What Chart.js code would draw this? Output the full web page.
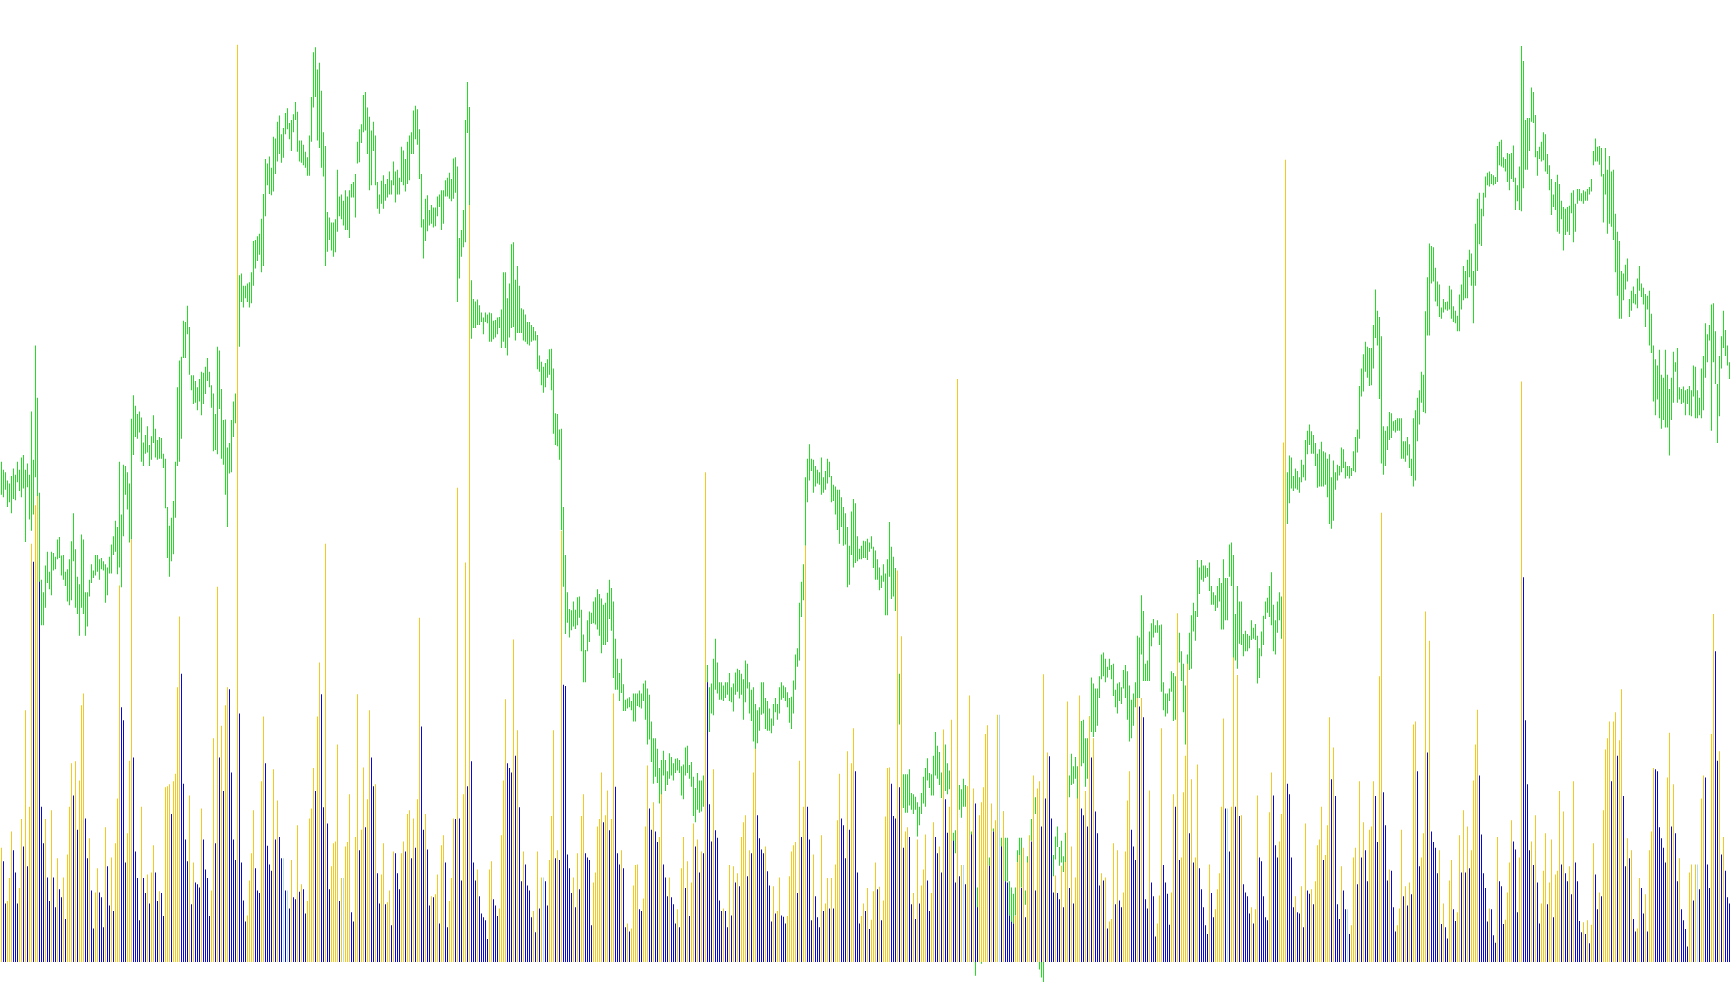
<!DOCTYPE html>
<html>
<head>
<meta charset="utf-8">
<script src="https://cdn.jsdelivr.net/npm/chart.js@4.4.1/dist/chart.umd.min.js"></script>
<style>
html, body { margin: 0; padding: 0; background: #ffffff; overflow: hidden; }
</style>
</head>
<body>
<canvas id="volumeChart" width="1730" height="1005"></canvas>
<script>
// tick volume per bar
const volume = [
    184,162,94,98,135,210,180,144,94,119, 230,186,405,154,250,673,644,735,750,612,
    250,191,230,136,98,244,136,88,167,117, 104,136,69,173,250,320,268,323,213,292,
    413,432,231,167,199,115,54,112,151,112, 104,56,217,154,91,168,82,191,263,606,
    410,389,160,207,324,680,329,178,135,67, 250,135,111,141,94,144,188,144,98,114,
    111,74,281,283,286,238,291,303,442,556, 464,287,197,162,268,93,160,128,125,120,
    247,197,149,135,74,115,360,191,604,329, 380,275,413,442,439,305,197,164,1476,400,
    160,99,65,75,131,175,244,151,115,111, 291,395,320,187,157,147,310,197,260,201,
    167,167,115,115,86,

    164,104,101,220,113,125,117,78,98,231, 247,312,275,395,482,431,249,673,223,117,
    154,191,194,350,98,135,135,186,193,270, 80,65,201,431,180,213,313,217,262,405,
    329,283,286,143,94,141,191,93,96,115, 59,178,175,143,117,175,194,178,238,244,
    167,231,184,262,554,379,213,238,181,91, 106,104,109,141,62,188,204,160,56,98,
    135,231,230,763,231,131,270,643,283,1218, 323,160,131,149,106,78,72,67,37,149,
    162,101,91,74,86,204,292,423,320,312, 305,519,332,373,249,130,178,157,123,115,
    72,82,48,178,86,136,136,130,91,164, 235,373,167,180,164,694,446,444,173,151,
    111,136,88,175,117,

    235,270,175,168,164,59,128,144,218,230, 305,225,236,276,212,230,432,282,175,157,
    180,151,56,62,49,54,123,156,157,85, 82,102,218,316,247,213,257,210,193,201,
    270,157,136,106,136,104,93,62,85,56, 151,201,119,162,74,128,223,186,197,144,
    178,175,788,450,254,194,310,212,200,99, 82,86,82,56,156,75,154,128,143,122,
    201,225,236,138,180,175,305,343,236,199, 181,175,186,146,123,65,122,78,82,136,
    75,73,62,74,138,178,188,193,111,324, 201,250,670,250,197,67,173,106,72,56,
    204,82,94,135,86,135,86,157,228,303, 231,220,167,339,213,320,376,307,144,62,
    74,94,82,119,53,

    68,114,160,117,121,67,99,234,312,313, 287,235,231,630,281,524,184,210,217,201,
    93,111,69,197,94,123,149,205,131,82, 111,225,201,175,186,144,374,262,208,250,
    390,195,128,938,138,156,156,125,283,429, 205,279,255,88,236,257,281,367,381,155,
    255,210,228,398,398,186,242,130,128,75, 65,62,74,160,172,119,184,72,160,204,
    194,300,115,279,291,218,463,263,337,331, 231,112,139,111,101,155,88,161,419,119,
    186,94,136,263,429,247,236,275,218,395, 329,360,242,207,123,143,131,136,54,65,
    69,191,93,180,99,88,112,178,260,307, 213,186,164,425,411,425,394,101,86,276,
    128,106,41,62,107,

    376,156,128,110,60,112,270,250,561,164, 168,273,332,480,207,294,160,168,318,151,
    117,88,59,45,157,111,72,85,117,143, 250,392,247,247,178,250,490,250,462,235,
    236,125,112,106,78,88,62,85,268,168, 162,106,72,67,241,305,268,188,168,194,
    238,836,1291,287,270,168,88,106,80,78, 122,56,223,115,110,117,93,130,188,197,
    250,164,172,220,394,294,345,267,93,69, 154,115,85,85,45,59,168,184,125,291,
    168,225,180,130,213,218,291,267,193,460, 723,273,220,131,149,147,88,49,59,86,
    213,106,122,91,128,109,382,387,307,154, 168,207,564,337,517,210,193,184,143,180,
    61,94,56,38,131,

    164,85,66,80,204,144,244,144,218,151, 180,292,350,406,300,205,143,119,65,86,
    85,43,31,201,130,122,61,68,112,160, 228,194,181,80,168,934,619,389,286,180,
    194,156,236,128,62,94,147,207,93,128, 197,72,141,147,275,157,242,143,130,154,
    109,291,160,130,66,48,64,45,67,30, 60,191,141,85,112,106,244,342,360,387,
    291,387,402,332,357,439,267,154,199,167, 180,69,49,54,135,119,78,109,49,180,
    210,312,310,307,217,199,184,160,297,369, 218,286,207,130,167,85,67,53,25,144,
    157,99,157,157,117,263,300,297,157,119, 367,560,500,324,339,173,201,147,104,94
];

// price range per bar as [low, high]
const priceRange = [
    [1752,1805],[1748,1792],[1760,1788],[1732,1775],[1740,1770],[1722,1782],[1745,1794],[1743,1784],[1772,1805],[1758,1792],
    [1748,1812],[1762,1816],[1676,1792],[1764,1802],[1712,1784],[1694,1886],[1720,1808],[1780,1992],[1742,1908],[1608,1755],
    [1542,1615],[1542,1595],[1570,1638],[1610,1660],[1600,1628],[1590,1660],[1630,1658],[1632,1652],[1648,1680],[1650,1684],
    [1622,1654],[1615,1655],[1605,1628],[1580,1632],[1574,1648],[1582,1677],[1645,1722],[1570,1664],[1560,1620],[1525,1608],
    [1570,1688],[1560,1680],[1525,1595],[1540,1595],[1588,1615],[1610,1640],[1618,1630],[1622,1655],[1628,1655],[1615,1648],
    [1632,1650],[1630,1645],[1578,1640],[1590,1635],[1625,1652],[1625,1672],[1655,1685],[1660,1710],[1624,1700],[1635,1805],
    [1603,1720],[1685,1800],[1752,1798],[1728,1788],[1675,1770],[1680,1874],[1816,1912],[1845,1895],[1842,1882],[1852,1886],
    [1805,1876],[1798,1836],[1818,1848],[1820,1862],[1798,1832],[1808,1846],[1835,1880],[1812,1858],[1808,1840],[1810,1845],
    [1810,1843],[1795,1818],[1730,1810],[1650,1732],[1620,1702],[1645,1715],[1656,1742],[1715,1805],[1798,1925],[1805,1968],
    [1842,1974],[1972,2032],[1972,2030],[2010,2056],[1945,2022],[1920,1944],[1898,1944],[1900,1935],[1888,1925],[1902,1938],
    [1880,1950],[1898,1948],[1914,1958],[1935,1972],[1925,1950],[1892,1928],[1822,1915],[1824,1882],[1817,1990],[1890,1984],
    [1810,1922],[1800,1872],[1752,1873],[1700,1828],[1786,1835],[1788,1872],[1845,1902],[1867,1915],[1860,1990],[1990,2105],
    [2062,2108],[2053,2088],[2068,2088],[2062,2092],[2053,2094],[2060,2110],[2088,2160],[2116,2162],[2128,2168],[2138,2172],
    [2110,2196],[2120,2236],[2200,2292],[2250,2285],[2236,2296],[2234,2278],[2240,2328],[2268,2325],[2288,2352],[2300,2362],
    [2286,2332],[2294,2342],[2332,2366],[2340,2374],[2324,2350],

    [2305,2355],[2335,2364],[2355,2384],[2304,2368],[2288,2322],[2286,2322],[2282,2315],[2278,2304],[2265,2295],[2265,2330],
    [2320,2392],[2375,2464],[2392,2472],[2322,2436],[2310,2447],[2278,2402],[2264,2335],[2120,2313],[2143,2207],[2162,2198],
    [2145,2190],[2135,2190],[2142,2195],[2175,2275],[2200,2232],[2195,2235],[2185,2225],[2178,2242],[2178,2232],[2165,2242],
    [2230,2252],[2230,2255],[2198,2268],[2285,2320],[2287,2340],[2318,2348],[2335,2395],[2338,2400],[2300,2375],[2242,2360],
    [2250,2338],[2305,2352],[2250,2330],[2212,2255],[2204,2235],[2220,2257],[2212,2266],[2225,2252],[2230,2260],[2235,2272],
    [2235,2258],[2250,2288],[2222,2272],[2235,2275],[2235,2262],[2255,2312],[2250,2306],[2240,2292],[2252,2320],[2258,2330],
    [2300,2335],[2300,2370],[2324,2378],[2315,2372],[2260,2340],[2182,2268],[2132,2195],[2160,2228],[2176,2234],[2185,2210],
    [2188,2218],[2182,2214],[2184,2214],[2200,2232],[2215,2235],[2178,2242],[2188,2242],[2232,2258],[2232,2262],[2228,2270],
    [2224,2260],[2228,2293],[2238,2295],[2062,2280],[2100,2165],[2135,2178],[2150,2210],[2158,2355],[2334,2416],[2100,2376],
    [2003,2097],[2020,2067],[2020,2063],[2025,2066],[2025,2057],[2030,2045],[2010,2037],[2030,2045],[2028,2042],[1998,2045],
    [1998,2044],[2002,2032],[2005,2033],[2010,2037],[2020,2038],[1988,2050],[1998,2110],[1988,2110],[1976,2068],[2005,2092],
    [2020,2155],[2022,2158],[2000,2098],[2012,2120],[2012,2088],[2012,2052],[2000,2050],[1998,2042],[1994,2030],[1992,2030],
    [1998,2025],[2000,2022],[2000,2015],[1954,2009],[1950,1976],[1928,1966],[1916,1958],[1925,1964],[1940,1970],[1945,1986],
    [1920,1987],[1850,1955],[1832,1883],[1830,1882],[1808,1857],[1695,1858],[1604,1732],[1528,1655],[1546,1595],[1522,1568],
    [1534,1566],[1540,1580],[1536,1567],[1542,1587],[1554,1588],

    [1500,1567],[1450,1527],[1450,1502],[1500,1550],[1515,1564],[1544,1562],[1545,1580],[1543,1587],[1535,1600],[1525,1592],
    [1497,1585],[1510,1575],[1510,1578],[1515,1594],[1552,1615],[1533,1602],[1457,1580],[1438,1520],[1438,1488],[1420,1465],
    [1433,1488],[1404,1447],[1404,1422],[1408,1424],[1410,1426],[1405,1420],[1387,1432],[1387,1432],[1412,1432],[1410,1437],
    [1408,1432],[1420,1448],[1390,1453],[1350,1440],[1358,1430],[1322,1387],[1287,1360],[1298,1360],[1288,1343],[1255,1312],
    [1268,1325],[1300,1340],[1275,1325],[1285,1307],[1295,1336],[1300,1330],[1292,1320],[1304,1327],[1308,1328],[1304,1325],
    [1268,1315],[1262,1318],[1300,1345],[1304,1348],[1295,1317],[1282,1322],[1235,1298],[1225,1280],[1245,1304],[1240,1292],
    [1242,1292],[1250,1300],[1280,1400],[1370,1478],[1370,1442],[1400,1448],[1397,1488],[1438,1520],[1432,1482],[1422,1450],
    [1422,1450],[1420,1445],[1425,1450],[1430,1450],[1420,1465],[1418,1442],[1403,1448],[1430,1466],[1435,1472],[1424,1470],
    [1430,1464],[1390,1455],[1418,1485],[1440,1480],[1400,1450],[1388,1438],[1355,1442],[1335,1415],[1352,1405],[1372,1410],
    [1398,1450],[1400,1450],[1375,1425],[1372,1420],[1372,1408],[1368,1392],[1380,1415],[1402,1425],[1390,1415],[1400,1442],
    [1422,1450],[1425,1445],[1420,1442],[1410,1434],[1385,1425],[1375,1427],[1400,1453],[1438,1495],[1475,1505],[1485,1578],
    [1555,1612],[1582,1640],[1670,1780],[1740,1810],[1775,1833],[1790,1810],[1755,1808],[1765,1798],[1770,1792],[1768,1788],
    [1752,1812],[1755,1780],[1760,1790],[1770,1810],[1780,1805],[1740,1782],[1742,1768],[1720,1765],[1695,1760],[1673,1760],
    [1700,1748],[1670,1732],[1672,1722],[1603,1700],[1607,1670],[1655,1725],[1635,1745],[1642,1738],[1645,1685],[1648,1665],
    [1648,1670],[1650,1678],[1650,1677],[1647,1681],[1660,1675],

    [1665,1685],[1634,1668],[1615,1662],[1615,1648],[1598,1635],[1602,1622],[1612,1640],[1558,1625],[1558,1648],[1620,1708],
    [1584,1668],[1588,1652],[1565,1634],[1510,1620],[1382,1464],[1300,1380],[1248,1302],[1240,1302],[1240,1302],[1252,1310],
    [1245,1272],[1238,1270],[1245,1266],[1202,1257],[1220,1250],[1238,1272],[1255,1298],[1250,1312],[1292,1328],[1280,1304],
    [1268,1302],[1268,1332],[1300,1370],[1295,1348],[1285,1338],[1264,1305],[1300,1370],[1275,1350],[1270,1320],[1278,1308],
    [1270,1320],[1170,1208],[1175,1212],[1200,1270],[1245,1285],[1232,1278],[1250,1295],[1250,1285],[1220,1282],[1200,1240],
    [1180,1210],[1170,1200],[978,1080],[1080,1120],[1070,1120],[997,1040],[1040,1080],[1100,1140],[1160,1200],[1155,1168],
    [1155,1200],[1210,1215],[1175,1224],[1210,1260],[1200,1250],[1182,1200],[1200,1242],[1130,1200],[1130,1200],[1075,1130],
    [1065,1120],[1062,1110],[1075,1120],[1160,1180],[1160,1200],[1120,1200],[1102,1140],[1092,1115],[1120,1170],[1115,1200],
    [1195,1230],[1200,1240],[1238,1265],[1170,1200],[988,1020],[975,1010],[968,1000],[1000,1050],[1060,1100],[1100,1140],
    [1140,1172],[1138,1172],[1165,1202],[1185,1218],[1155,1185],[1160,1195],[1145,1170],[1160,1208],[1200,1240],[1265,1300],
    [1285,1335],[1287,1315],[1295,1330],[1260,1315],[1290,1328],[1315,1388],[1320,1390],[1282,1360],[1295,1360],[1320,1395],
    [1370,1458],[1362,1448],[1370,1440],[1380,1440],[1425,1460],[1455,1495],[1460,1498],[1450,1488],[1458,1475],[1470,1488],
    [1455,1478],[1428,1480],[1410,1438],[1400,1448],[1420,1450],[1415,1442],[1440,1470],[1425,1478],[1390,1468],[1355,1445],
    [1360,1422],[1380,1432],[1410,1450],[1415,1525],[1425,1522],[1495,1590],[1452,1565],[1452,1480],[1452,1485],[1452,1532],
    [1508,1545],[1522,1552],[1530,1542],[1530,1550],[1510,1542],

    [1435,1543],[1405,1450],[1395,1432],[1400,1432],[1420,1440],[1435,1468],[1388,1465],[1390,1460],[1440,1500],[1482,1530],
    [1452,1500],[1402,1480],[1350,1445],[1425,1495],[1470,1530],[1472,1558],[1532,1578],[1517,1565],[1555,1647],[1592,1635],
    [1615,1647],[1612,1638],[1618,1638],[1620,1634],[1597,1643],[1575,1605],[1575,1595],[1565,1590],[1570,1605],[1580,1618],
    [1535,1610],[1535,1648],[1550,1618],[1550,1618],[1620,1672],[1605,1675],[1488,1655],[1485,1560],[1472,1605],[1512,1580],
    [1510,1580],[1492,1528],[1500,1533],[1500,1528],[1505,1525],[1518,1550],[1520,1538],[1518,1544],[1448,1525],[1457,1505],
    [1492,1532],[1510,1557],[1552,1580],[1562,1586],[1555,1605],[1542,1627],[1500,1575],[1495,1550],[1530,1580],[1550,1595],
    [1520,1588],[1580,1700],[1700,1780],[1705,1788],[1738,1815],[1762,1812],[1758,1782],[1762,1794],[1760,1790],[1755,1780],
    [1772,1808],[1780,1800],[1775,1840],[1817,1855],[1832,1865],[1818,1854],[1818,1848],[1798,1835],[1763,1818],[1765,1825],
    [1765,1837],[1765,1822],[1768,1820],[1748,1810],[1705,1817],[1697,1780],[1710,1807],[1760,1788],[1775,1800],[1783,1798],
    [1788,1828],[1795,1825],[1778,1805],[1782,1798],[1778,1798],[1782,1795],[1790,1822],[1788,1845],[1820,1857],[1842,1927],
    [1910,1955],[1918,1978],[1950,1998],[1940,1990],[1927,1988],[1928,1988],[1955,2025],[2004,2082],[1992,2048],[1906,2038],
    [1802,2007],[1784,1862],[1798,1855],[1824,1862],[1840,1885],[1843,1883],[1855,1870],[1852,1872],[1855,1875],[1855,1875],
    [1810,1875],[1810,1838],[1805,1838],[1815,1845],[1795,1833],[1782,1810],[1765,1875],[1775,1888],[1838,1908],[1865,1920],
    [1900,1950],[1885,1945],[1883,2047],[2008,2102],[2008,2156],[2092,2152],[2095,2150],[2063,2117],[2055,2095],[2038,2090],
    [2035,2053],[2045,2067],[2050,2062],[2048,2063],[2050,2088],

    [2035,2082],[2030,2055],[2028,2048],[2015,2040],[2015,2074],[2050,2090],[2065,2120],[2068,2112],[2068,2130],[2102,2146],
    [2088,2140],[2028,2112],[2088,2188],[2112,2228],[2155,2238],[2152,2212],[2200,2238],[2230,2264],[2250,2270],[2248,2272],
    [2252,2268],[2250,2266],[2252,2263],[2255,2313],[2282,2320],[2280,2323],[2278,2295],[2272,2292],[2255,2302],[2242,2300],
    [2260,2302],[2255,2314],[2210,2262],[2224,2250],[2210,2280],[2208,2474],[2245,2450],[2275,2355],[2275,2358],[2305,2358],
    [2352,2407],[2350,2400],[2295,2363],[2265,2305],[2292,2312],[2288,2320],[2290,2335],[2272,2332],[2268,2300],[2242,2282],
    [2202,2260],[2215,2235],[2210,2255],[2175,2267],[2172,2252],[2195,2225],[2145,2215],[2170,2212],[2175,2215],[2170,2217],
    [2205,2238],[2158,2242],[2175,2220],[2220,2244],[2225,2244],[2224,2237],[2220,2242],[2225,2240],[2225,2244],[2235,2247],
    [2240,2260],[2282,2305],[2288,2325],[2288,2312],[2283,2313],[2264,2310],[2190,2268],[2235,2310],[2172,2275],[2188,2297],
    [2183,2272],[2162,2275],[2110,2204],[2072,2175],[2035,2160],[2035,2112],[2065,2108],[2082,2122],[2095,2132],[2038,2067],
    [2048,2080],[2060,2087],[2058,2075],[2052,2100],[2080,2120],[2070,2092],[2058,2085],[2022,2075],[2050,2072],[1992,2080],
    [1980,2043],[1902,1992],[1880,1970],[1905,1960],[1875,1985],[1858,1945],[1872,1940],[1860,1985],[1860,1945],[1815,1922],
    [1872,1940],[1900,1982],[1950,1965],[1900,1988],[1905,1925],[1898,1922],[1900,1926],[1880,1920],[1898,1922],[1880,1927],
    [1878,1920],[1910,1960],[1875,1958],[1875,1920],[1880,1908],[1875,1955],[1888,1975],[1940,2028],[1965,2010],[2000,2025],
    [1855,2058],[1965,2060],[1930,2015],[1835,1930],[1878,1975],[1955,2007],[1988,2048],[1975,2017],[1960,1992],[1938,1965]
];

const volumeAxis = { min: 0, max: 1548 };
const priceAxis = { min: 1000, max: 2548 };

const upColor = '#f5c81e';
const downColor = '#0808dc';
const flatColor = '#b0e0e6';
const priceColor = '#22dd22';

if (volume.length !== priceRange.length) {
    throw new Error('length mismatch: volume ' + volume.length + ', price ' + priceRange.length);
}

// bar numbers on a linear index axis, so each 1px bar lands on a whole pixel column
const labels = volume.map((v, i) => i);

// yellow when volume grows vs previous bar, blue when it falls
const volumeColors = volume.map((v, i) => {
    if (i === 0 || v > volume[i - 1]) return upColor;
    if (v < volume[i - 1]) return downColor;
    return flatColor;
});

const ctx = document.getElementById('volumeChart').getContext('2d');
new Chart(ctx, {
    type: 'bar',
    data: {
        labels: labels,
        datasets: [{
            label: 'Volume',
            data: volume,
            yAxisID: 'yVolume',
            backgroundColor: volumeColors,
            borderWidth: 0,
            maxBarThickness: 1,
            inflateAmount: 0,
            grouped: false,
            order: 0
        }, {
            label: 'Price',
            data: priceRange,
            yAxisID: 'yPrice',
            backgroundColor: priceColor,
            borderWidth: 0,
            maxBarThickness: 1,
            inflateAmount: 0,
            grouped: false,
            clip: false,
            order: 1
        }]
    },
    options: {
        responsive: false,
        animation: false,
        devicePixelRatio: 1,
        layout: { padding: { left: 0, right: 0, top: 0, bottom: 43 } },
        plugins: { legend: { display: false }, tooltip: { enabled: false } },
        scales: {
            x: {
                type: 'linear', display: false, offset: false, bounds: 'data',
                min: -0.75, max: labels.length - 0.75,
                grid: { display: false, offset: false }
            },
            yVolume: { display: false, min: volumeAxis.min, max: volumeAxis.max },
            yPrice: { display: false, min: priceAxis.min, max: priceAxis.max }
        }
    }
});
</script>
</body>
</html>
